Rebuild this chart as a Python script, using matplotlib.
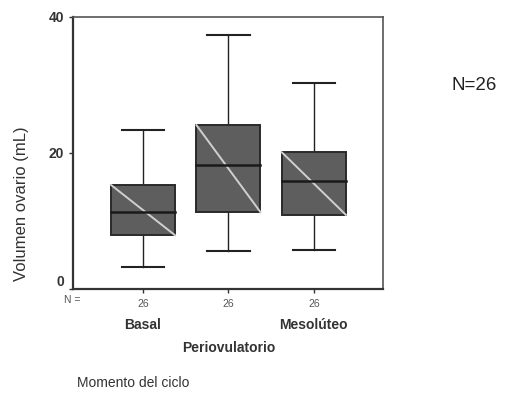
import matplotlib
matplotlib.use("Agg")
import matplotlib.pyplot as plt
from matplotlib.patches import Rectangle

plt.rcParams['font.family'] = ['Liberation Sans', 'DejaVu Sans']

categories = ["Basal", "Periovulatorio", "Mesolúteo"]
counts     = [26, 26, 26]
whis_low   = [3.2, 5.6, 5.7]
q1         = [7.9, 11.3, 10.9]
medians    = [11.3, 18.2, 15.9]
q3         = [15.3, 24.1, 20.1]
whis_high  = [23.4, 37.4, 30.3]
y_ticks    = [0, 20, 40]

fig = plt.figure(figsize=(5.11, 3.99), dpi=100)
ax = fig.add_axes([0.1429, 0.2757, 0.6067, 0.6817])

box_w = 0.75
cap_w = 0.5
for i in range(len(categories)):
    x = i + 1
    ax.plot([x, x], [q3[i], whis_high[i]], color="#222222", lw=1.0)
    ax.plot([x, x], [whis_low[i], q1[i]], color="#222222", lw=1.0)
    ax.plot([x - cap_w / 2, x + cap_w / 2], [whis_high[i]] * 2, color="#222222", lw=1.5)
    ax.plot([x - cap_w / 2, x + cap_w / 2], [whis_low[i]] * 2, color="#222222", lw=1.5)
    ax.add_patch(Rectangle((x - box_w / 2, q1[i]), box_w, q3[i] - q1[i],
                           facecolor="#5e5e5e", edgecolor="#2a2a2a", lw=1.4, zorder=3))
    # light diagonal across each box
    ax.plot([x - box_w / 2, x + box_w / 2], [q3[i], q1[i]], color="#d0d0d0", lw=1.4, zorder=4)
    ax.plot([x - box_w / 2, x + box_w / 2], [medians[i]] * 2, color="#1a1a1a", lw=1.8, zorder=5)

ax.set_xlim(0.18, 3.81)
ax.set_ylim(0, 40)
ax.set_yticks(y_ticks)
ax.set_yticklabels([str(t) for t in y_ticks], fontsize=10, fontweight="bold", color="#333333")
ax.get_yticklabels()[0].set_verticalalignment("bottom")
ax.set_xticks([1, 2, 3])
ax.set_xticklabels([str(c) for c in counts], fontsize=7.5, color="#555555")
ax.tick_params(axis="both", direction="out", length=3, width=1, colors="#333333")
ax.tick_params(axis="x", pad=4, labelcolor="#555555")
for side in ["left", "bottom"]:
    ax.spines[side].set_linewidth(1.6)
    ax.spines[side].set_color("#333333")
for side in ["top", "right"]:
    ax.spines[side].set_linewidth(1.2)
    ax.spines[side].set_color("#555555")

fig.text(22 / 511, 1 - 204 / 399, "Volumen ovario (mL)", rotation=90, fontsize=12,
         ha="center", va="center", color="#333333")

# category names, staggered under the counts
label_y = [325, 348, 325]
for i, name in enumerate(categories):
    fig.text(ax.transData.transform((i + 1, 0))[0] / fig.bbox.width, 1 - label_y[i] / 399, name,
             fontsize=10, fontweight="bold", ha="center", va="center", color="#333333")

fig.text(72 / 511, 1 - 300 / 399, "N =", fontsize=7.5, ha="center", va="center", color="#555555")
fig.text(474 / 511, 1 - 86 / 399, "N=26", fontsize=13.5, ha="center", va="center", color="#222222")
fig.text(77 / 511, 1 - 383 / 399, "Momento del ciclo", fontsize=10, ha="left", va="center",
         color="#333333")

fig.savefig("out.png", dpi=100)
